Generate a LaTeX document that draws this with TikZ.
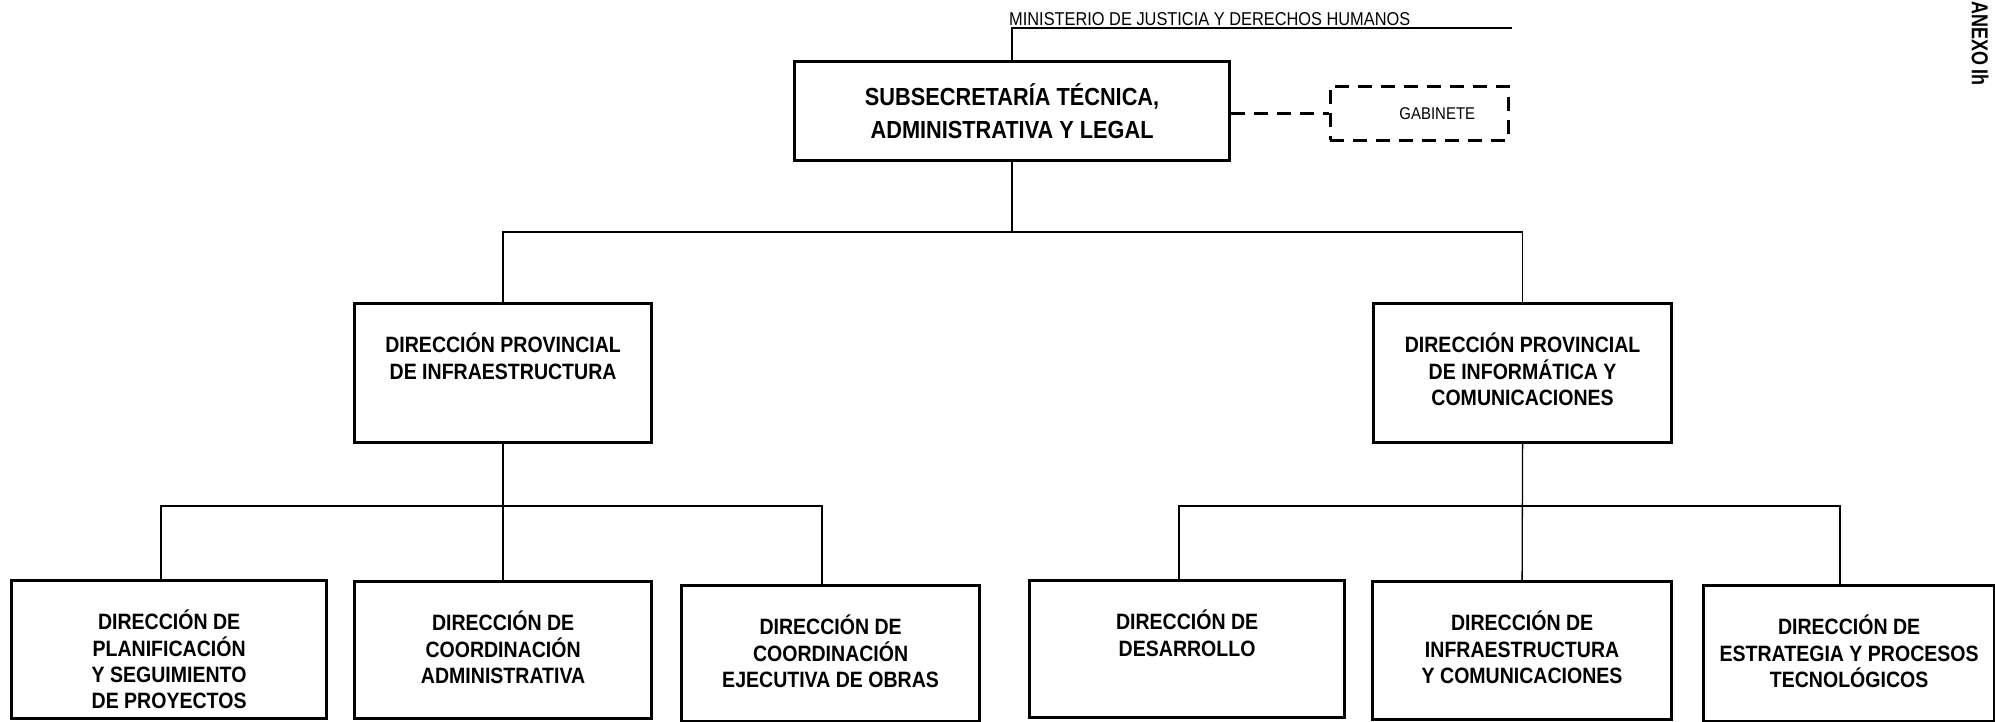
\documentclass[tikz,border=0pt]{standalone}
\usepackage{fontspec}
\setmainfont{Liberation Sans}
\newfontfamily\cf{Liberation Sans}[FakeStretch=0.88]
\newfontfamily\cfx{Liberation Sans}[FakeStretch=0.78]
\begin{document}
\begin{tikzpicture}[x=1pt,y=-1pt,
  box/.style={draw, line width=3.2pt, inner sep=0pt, anchor=north west},
  conn/.style={line width=1.3pt},
  dashline/.style={line width=2.6pt, dash pattern=on 14pt off 9pt},
  lbl/.style={anchor=north, yshift=-31pt, align=center, inner sep=0pt, font=\cf\fontsize{22.2}{26.3}\selectfont\bfseries},
]
\useasboundingbox (0,0) rectangle (1995,721);

% top
\node[box, minimum width=435pt, minimum height=99pt, align=center,
      font=\cf\fontsize{24.7}{33}\selectfont\bfseries] (top) at (793,60)
      {SUBSECRETARÍA TÉCNICA,\\ADMINISTRATIVA Y LEGAL};
\node[draw, dashline, anchor=north west, inner sep=0pt, minimum width=178pt, minimum height=54pt,
      label={[inner sep=0pt, xshift=18pt, font=\cf\fontsize{17}{20}\selectfont]center:GABINETE}] (gab) at (1329,85) {};
\node[anchor=base west, inner sep=0pt, font=\cf\fontsize{18.6}{20}\selectfont] (min) at (1009,25)
      {MINISTERIO DE JUSTICIA Y DERECHOS HUMANOS};
\node[rotate=-90, anchor=west, inner sep=0pt, font=\cfx\fontsize{23}{25}\selectfont\bfseries] (anx) at (1980,1) {ANEXO Ih};

% middle
\node[box, minimum width=297pt, minimum height=139pt,
      label={[lbl]north:{DIRECCIÓN PROVINCIAL\\DE INFRAESTRUCTURA}}] (pl) at (353,302) {};
\node[box, minimum width=298pt, minimum height=139pt,
      label={[lbl]north:{DIRECCIÓN PROVINCIAL\\DE INFORMÁTICA Y\\COMUNICACIONES}}] (pr) at (1372,302) {};

% bottom
\node[box, minimum width=315pt, minimum height=138pt,
      label={[lbl]north:{DIRECCIÓN DE\\PLANIFICACIÓN\\Y SEGUIMIENTO\\DE PROYECTOS}}] (b1) at (10,579) {};
\node[box, minimum width=297pt, minimum height=137pt,
      label={[lbl]north:{DIRECCIÓN DE\\COORDINACIÓN\\ADMINISTRATIVA}}] (b2) at (353,580) {};
\node[box, minimum width=298pt, minimum height=136pt,
      label={[lbl]north:{DIRECCIÓN DE\\COORDINACIÓN\\EJECUTIVA DE OBRAS}}] (b3) at (680,584) {};
\node[box, minimum width=315pt, minimum height=137pt,
      label={[lbl]north:{DIRECCIÓN DE\\DESARROLLO}}] (b4) at (1028,579) {};
\node[box, minimum width=299pt, minimum height=138pt,
      label={[lbl]north:{DIRECCIÓN DE\\INFRAESTRUCTURA\\Y COMUNICACIONES}}] (b5) at (1371,580) {};
\node[box, minimum width=291pt, minimum height=136pt,
      label={[lbl]north:{DIRECCIÓN DE\\ESTRATEGIA Y PROCESOS\\TECNOLÓGICOS}}] (b6) at (1702,584) {};

% connectors
\coordinate (minL) at (top.north |- 0,28);
\coordinate (minR) at (1512,28);
\draw[conn] (minR) -- (minL) -- (top.north);

\draw[dashline] (top.east |- gab.west) -- (gab.west);

\coordinate (busT) at (top.south |- 0,232);
\draw[conn] (top.south) -- (busT);
\draw[conn] (pl.north) -- (pl.north |- busT) -- (pr.north |- busT) -- (pr.north);

\coordinate (l1) at (161,506);
\coordinate (l3) at (822,506);
\draw[conn] (pl.south) -- (b2.north);
\draw[conn] (b1.north -| l1) -- (l1) -- (l3) -- (b3.north -| l3);

\coordinate (r1) at (1179,506);
\coordinate (r3) at (1840,506);
\draw[conn] (pr.south) -- (b5.north);
\draw[conn] (b4.north -| r1) -- (r1) -- (r3) -- (b6.north -| r3);
\end{tikzpicture}
\end{document}
